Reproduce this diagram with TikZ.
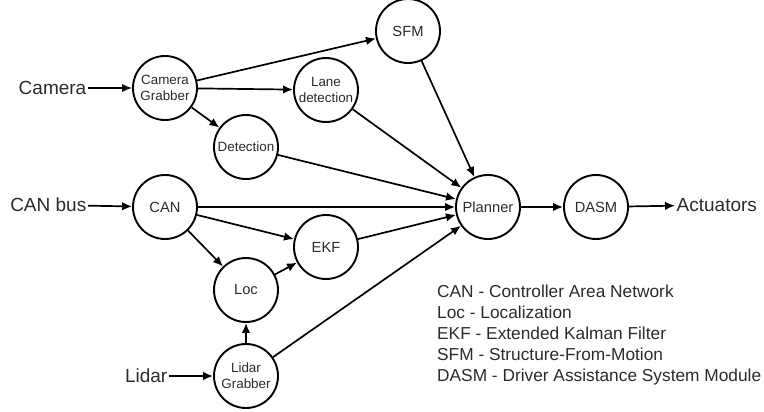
\documentclass[tikz,border=0pt]{standalone}
\usepackage{fontspec}
\setmainfont{Liberation Sans}
\usetikzlibrary{arrows.meta}
\definecolor{inkgray}{HTML}{2B2B2B}
\begin{document}
\begin{tikzpicture}[x=1pt,y=-1pt,
  proc/.style={circle,draw,line width=1.9pt,minimum size=64pt,inner sep=0pt,
    align=center,text=inkgray,font=\fontsize{14.7}{17}\selectfont},
  small/.style={font=\fontsize{13.4}{16}\selectfont},
  ext/.style={inner sep=1.5pt,text=inkgray,font=\fontsize{19}{22}\selectfont},
  flow/.style={line width=1.7pt,-{Latex[length=10pt,width=8.5pt]}}]
\useasboundingbox (0,0) rectangle (764,412);

% processing modules
\node[proc,small] (cg)  at (165,88)  {Camera\\Grabber};
\node[proc]       (sfm) at (408,31)  {SFM};
\node[proc,small] (ld)  at (326,90)  {Lane\\detection};
\node[proc,small] (det) at (246,147) {Detection};
\node[proc]       (can) at (165,207) {CAN};
\node[proc]       (ekf) at (326,247) {EKF};
\node[proc]       (loc) at (246,290) {Loc};
\node[proc,small] (lg)  at (246,376) {Lidar\\Grabber};
\node[proc]       (pl)  at (488,207) {Planner};
\node[proc]       (dasm) at (596,207) {DASM};

% sensor inputs and output
\node[ext,anchor=east] (cam)  at (88,88)  {Camera};
\node[ext,anchor=east] (bus)  at (88,205) {CAN bus};
\node[ext,anchor=east] (lid)  at (169,376) {Lidar};
\node[ext,anchor=west] (act)  at (675,205) {Actuators};

% connections
\draw[flow] (cam) -- (cg);
\draw[flow] (bus) -- (can);
\draw[flow] (lid) -- (lg);
\draw[flow] (cg) -- (sfm);
\draw[flow] (cg) -- (ld);
\draw[flow] (cg) -- (det);
\draw[flow] (sfm) -- (pl);
\draw[flow] (ld) -- (pl);
\draw[flow] (det) -- (pl);
\draw[flow] (can) -- (pl);
\draw[flow] (can) -- (ekf);
\draw[flow] (can) -- (loc);
\draw[flow] (loc) -- (ekf);
\draw[flow] (ekf) -- (pl);
\draw[flow] (lg) -- (loc);
\draw[flow] (lg) -- (pl);
\draw[flow] (pl) -- (dasm);
\draw[flow] (dasm) -- (act);

% legend
\node[anchor=north west,align=left,inner sep=0pt,text=inkgray,
  font=\fontsize{17.3}{21}\selectfont] (legend) at (437,285)
  {CAN - Controller Area Network\\
   Loc - Localization\\
   EKF - Extended Kalman Filter\\
   SFM - Structure-From-Motion\\
   DASM - Driver Assistance System Module};
\end{tikzpicture}
\end{document}
